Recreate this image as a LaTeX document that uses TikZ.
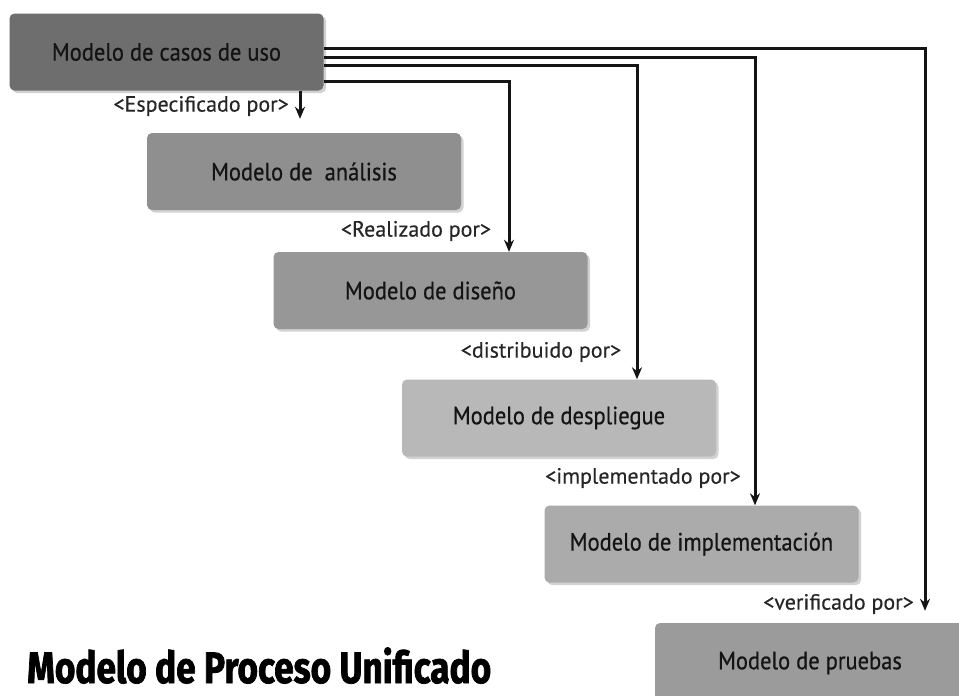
\documentclass[tikz,border=0pt]{standalone}
\usepackage{fontspec}
\usetikzlibrary{shadows,arrows.meta,calc}
\newfontfamily\boxfont[FakeStretch=0.9,FakeBold=0.6]{PT Sans}
\newfontfamily\lblfont[FakeBold=0.3]{PT Sans}
\newfontfamily\titlefont[FakeStretch=0.8,FakeBold=1.6]{Fira Sans}
\definecolor{gA}{HTML}{6E6E6E}
\definecolor{gB}{HTML}{8F8F8F}
\definecolor{gC}{HTML}{979797}
\definecolor{gD}{HTML}{B8B8B8}
\definecolor{gE}{HTML}{ABABAB}
\definecolor{gF}{HTML}{9B9B9B}
\tikzset{
  model/.style={rounded corners=5pt, minimum width=314pt, minimum height=77pt,
    inner sep=0pt, font=\boxfont\fontsize{25}{30}\selectfont, text=black!92,
    drop shadow={opacity=0.35, shadow xshift=2.5pt, shadow yshift=-2.5pt}},
  arr/.style={line width=3pt, -{Stealth[length=12pt,width=10pt]}, black!92},
  lbl/.style={font=\lblfont\fontsize{22}{26}\selectfont, text=black!85, inner sep=0pt}
}
\begin{document}
\begin{tikzpicture}[x=1pt,y=-1pt]
\useasboundingbox[fill=white] (0,0) rectangle (959,696);
\node[model, fill=gA] (uso) at (166.5,52) {Modelo de casos de uso};
\node[model, fill=gB] (ana) at (304,171.5) {Modelo de \ an\'alisis};
\node[model, fill=gC] (dis) at (430.5,290.5) {Modelo de dise\~no};
\node[model, fill=gD] (des) at (559,418) {Modelo de despliegue};
\node[model, fill=gE] (imp) at (701.5,544) {Modelo de implementaci\'on};
\node[model, fill=gF, minimum width=310pt, minimum height=80pt] (pru) at (810,663) {Modelo de pruebas};

% connectors
\coordinate (t1) at (uso.south -| 300,0);
\draw[arr, shorten >=14pt] (t1) -- (ana.north -| t1);
\draw[arr] (uso.east |- 0,81) -| (dis.north -| 509,0);
\draw[arr] (uso.east |- 0,65) -| (des.north -| 637,0);
\draw[arr] (uso.east |- 0,57) -| (imp.north -| 755,0);
\draw[arr, shorten >=12pt] (uso.east |- 0,48) -| (pru.north -| 925,0);

% labels
\node[lbl, anchor=east] (l1) at (289,106) {<Especificado por>};
\node[lbl] (l2) at (416,231) {<Realizado por>};
\node[lbl] (l3) at (541,352) {<distribuido por>};
\node[lbl] (l4) at (643,478) {<implementado por>};
\node[lbl, anchor=east] (l5) at (914,604) {<verificado por>};

\node[anchor=base west, inner sep=0pt, font=\titlefont\bfseries\fontsize{44}{50}\selectfont] (title) at (27,683) {Modelo de Proceso Unificado};
\end{tikzpicture}
\end{document}
